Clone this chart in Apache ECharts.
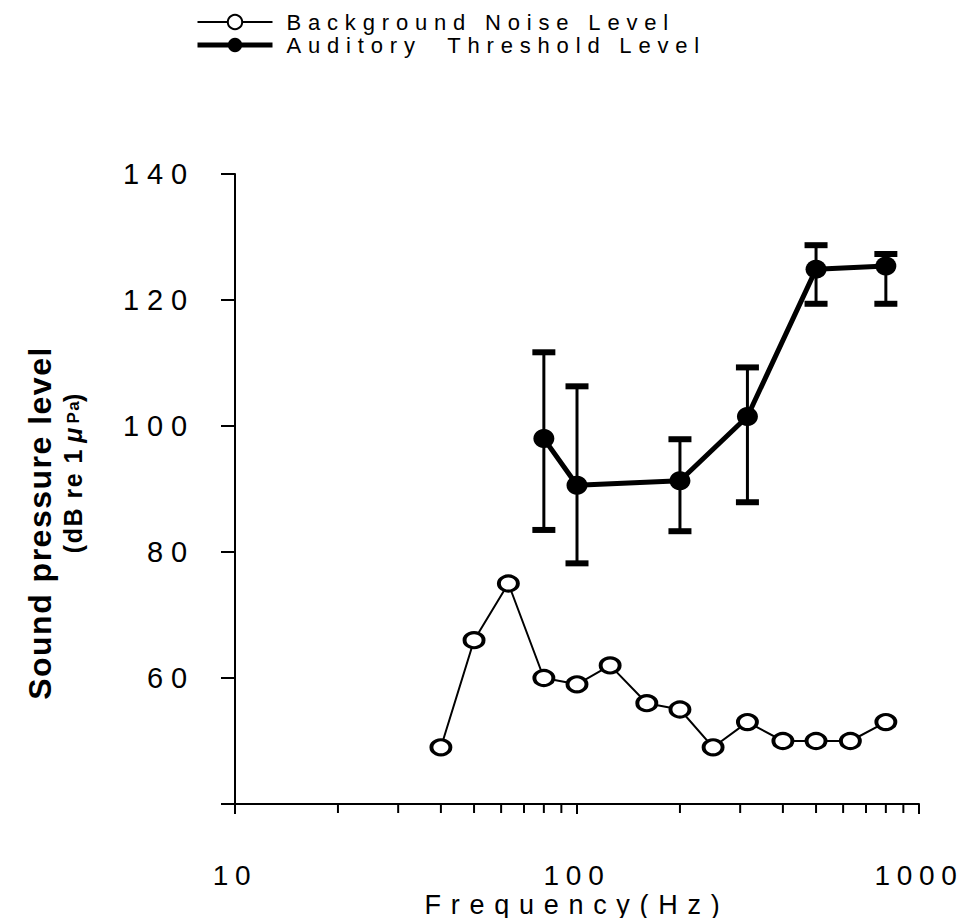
<!DOCTYPE html>
<html>
<head>
<meta charset="utf-8">
<script src="https://cdn.jsdelivr.net/npm/echarts@6/dist/echarts.min.js"></script>
<style>
    html, body { margin: 0; padding: 0; background: #fff; }
    #chart { width: 968px; height: 918px; }
    /* the scanned figure uses widely spaced lettering, picked by font size */
    #chart text[style*="22px"] { letter-spacing: 0.31em; }
    #chart text[style*="28px"] { letter-spacing: 0.24em; }
    #chart text[style*="29px"] { letter-spacing: 0.27em; }
    #chart text[style*="27px"] { letter-spacing: 0.36em; }
    #chart text[style*="bold"] { letter-spacing: 1.5px; }
</style>
</head>
<body>
<div id="chart"></div>
<script>
// background noise, 1/3 octave bands
const noiseFreq = [40, 50, 63, 80, 100, 125, 160, 200, 250, 315, 400, 500, 630, 800];
const noiseLevel = [49, 66, 75, 60, 59, 62, 56, 55, 49, 53, 50, 50, 50, 53];

// auditory threshold with error bars
const thresholdFreq = [80, 100, 200, 315, 500, 800];
const thresholdLevel = [98, 90.6, 91.3, 101.5, 124.9, 125.4];
const thresholdLow = [83.5, 78.2, 83.3, 87.9, 119.4, 119.4];
const thresholdHigh = [111.7, 106.3, 97.9, 109.3, 128.7, 127.3];

// minor ticks on the log axis
const minorFreq = [20, 30, 40, 50, 60, 70, 80, 90, 200, 300, 400, 500, 600, 700, 800, 900];

const seriesNames = ['Background Noise Level', 'Auditory  Threshold Level'];
const FONT = 'Liberation Sans';

const chart = echarts.init(document.getElementById('chart'), null, { renderer: 'svg' });

const option = {
    backgroundColor: '#fff',
    animation: false,
    legend: {
        data: [
            { name: seriesNames[0], lineStyle: { width: 2 } },
            { name: seriesNames[1], lineStyle: { width: 5 } },
        ],
        orient: 'vertical',
        left: 190,
        top: 6,
        itemWidth: 75,
        itemHeight: 18,
        itemGap: 1,
        selectedMode: false,
        textStyle: {
            fontFamily: FONT,
            fontSize: 22,
            lineHeight: 22,
            color: '#000',
            padding: [0, 0, 0, 9],
        },
    },
    grid: {
        left: 235,
        right: 49,
        top: 174,
        bottom: 114,
        outerBoundsMode: 'none',
    },
    xAxis: {
        type: 'log',
        logBase: 10,
        min: 10,
        max: 1000,
        name: 'Frequency(Hz)',
        nameLocation: 'middle',
        nameGap: 87,
        nameMoveOverlap: false,
        nameTextStyle: { fontFamily: FONT, fontSize: 27, color: '#000' },
        axisLine: { lineStyle: { color: '#000', width: 2 } },
        axisTick: { length: 10, lineStyle: { color: '#000', width: 2 } },
        axisLabel: {
            fontFamily: FONT,
            fontSize: 28,
            color: '#000',
            margin: 57,
            formatter: (v) => String(v),
        },
        splitLine: { show: false },
        minorTick: { show: false },
    },
    yAxis: {
        type: 'value',
        min: 40,
        max: 140,
        interval: 20,
        axisLine: { show: true, lineStyle: { color: '#000', width: 2 } },
        axisTick: { show: true, length: 14, lineStyle: { color: '#000', width: 2 } },
        axisLabel: {
            fontFamily: FONT,
            fontSize: 29,
            color: '#000',
            margin: 40,
            formatter: (v) => (v === 40 ? '' : String(v)),
        },
        splitLine: { show: false },
    },
    graphic: [
        {
            type: 'text',
            x: 40,
            y: 523,
            rotation: Math.PI / 2,
            style: {
                text: 'Sound pressure level',
                font: 'bold 32px "Liberation Sans"',
                fill: '#000',
                align: 'center',
                verticalAlign: 'middle',
            },
        },
        {
            type: 'text',
            x: 73,
            y: 470,
            rotation: Math.PI / 2,
            style: {
                text: '{a|(dB re 1}{m|μ}{p|Pa}{a|)}',
                fill: '#000',
                align: 'center',
                verticalAlign: 'middle',
                rich: {
                    a: { font: 'bold 25px "Liberation Sans"', fill: '#000' },
                    m: { font: 'italic bold 25px "Liberation Sans"', fill: '#000', padding: [0, 5, 0, 12] },
                    p: { font: 'bold 17px "Liberation Sans"', fill: '#000' },
                },
            },
        },
    ],
    series: [
        {
            name: 'error bars',
            type: 'custom',
            z: 1,
            silent: true,
            data: thresholdFreq.map((f, i) => [f, thresholdLow[i], thresholdHigh[i]]),
            renderItem: (params, api) => {
                const lo = api.coord([api.value(0), api.value(1)]);
                const hi = api.coord([api.value(0), api.value(2)]);
                const capW = 23;
                const capH = 6;
                return {
                    type: 'group',
                    children: [
                        {
                            type: 'line',
                            shape: { x1: lo[0], y1: lo[1], x2: hi[0], y2: hi[1] },
                            style: { stroke: '#000', lineWidth: 3 },
                        },
                        {
                            type: 'rect',
                            shape: { x: hi[0] - capW / 2, y: hi[1] - capH / 2, width: capW, height: capH },
                            style: { fill: '#000' },
                        },
                        {
                            type: 'rect',
                            shape: { x: lo[0] - capW / 2, y: lo[1] - capH / 2, width: capW, height: capH },
                            style: { fill: '#000' },
                        },
                    ],
                };
            },
        },
        {
            name: 'minor ticks',
            type: 'custom',
            silent: true,
            clip: false,
            data: minorFreq.map((f) => [f, 40]),
            renderItem: (params, api) => {
                const p = api.coord([api.value(0), api.value(1)]);
                return {
                    type: 'line',
                    shape: { x1: p[0], y1: p[1], x2: p[0], y2: p[1] + 9 },
                    style: { stroke: '#000', lineWidth: 2 },
                };
            },
        },
        {
            name: seriesNames[0],
            type: 'line',
            z: 3,
            data: noiseFreq.map((f, i) => [f, noiseLevel[i]]),
            symbol: 'circle',
            symbolSize: [19, 15],
            lineStyle: { color: '#000', width: 2 },
            itemStyle: { color: '#fff', borderColor: '#000', borderWidth: 3.5 },
        },
        {
            name: seriesNames[1],
            type: 'line',
            z: 3,
            data: thresholdFreq.map((f, i) => [f, thresholdLevel[i]]),
            symbol: 'circle',
            symbolSize: [21, 19],
            lineStyle: { color: '#000', width: 5 },
            itemStyle: { color: '#000', borderColor: '#000', borderWidth: 0 },
        },
    ],
};

chart.setOption(option);
window.addEventListener('resize', () => {
    chart.resize();
});
</script>
</body>
</html>
